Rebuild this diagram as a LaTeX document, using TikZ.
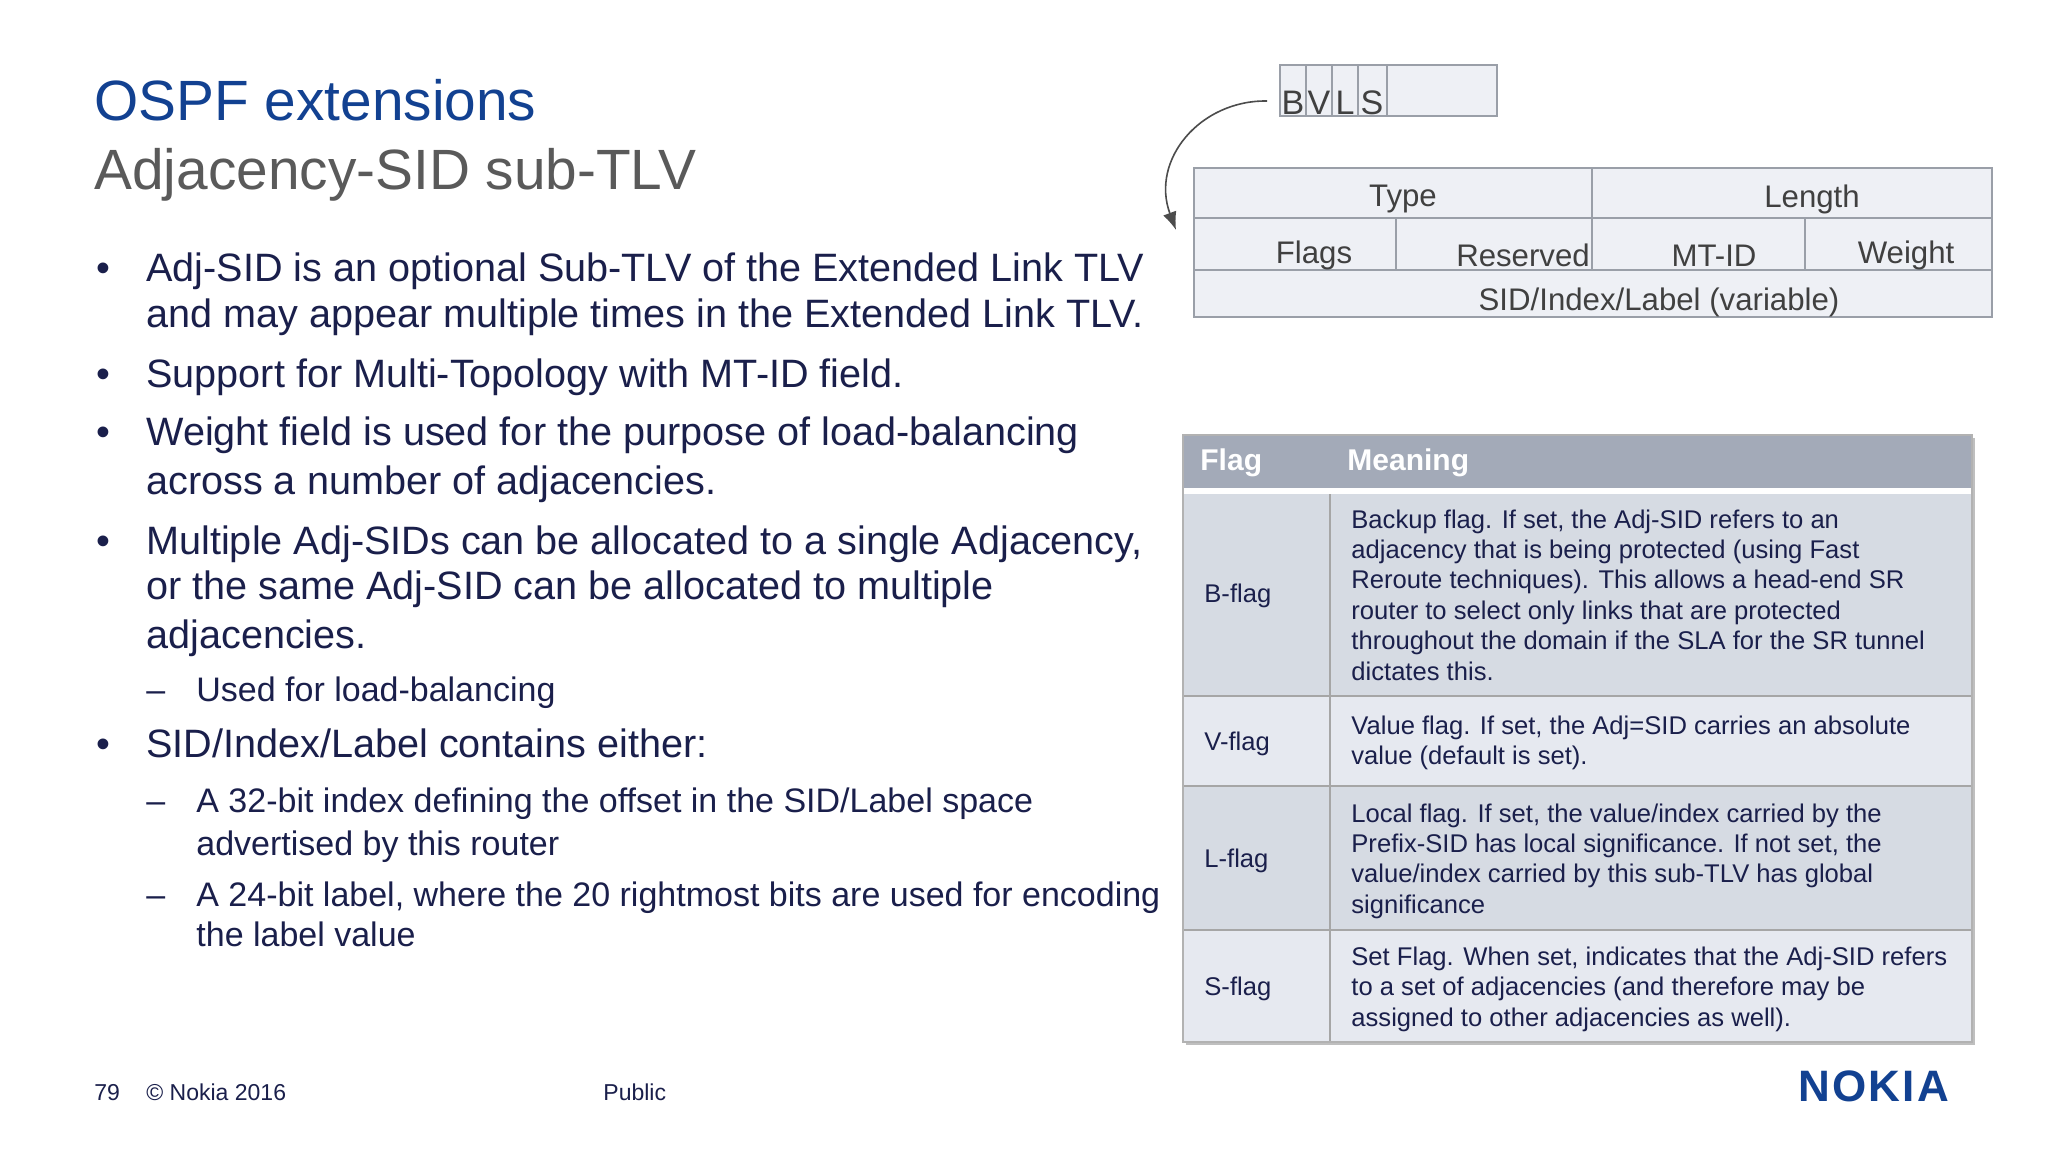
\documentclass[tikz,border=0pt]{standalone}
\usepackage{fontspec}
\usetikzlibrary{arrows.meta}
\setmainfont{Liberation Sans}
\definecolor{navy}{HTML}{1A1F4B}
\definecolor{nblue}{HTML}{124191}
\definecolor{tgray}{HTML}{5A5A5A}
\definecolor{pfill}{HTML}{EEF0F5}
\definecolor{pline}{HTML}{9A9FA8}
\definecolor{hdr}{HTML}{A3AAB8}
\definecolor{rowA}{HTML}{D6DBE3}
\definecolor{rowB}{HTML}{E6E9F0}
\begin{document}
\begin{tikzpicture}[x=0.5pt,y=-0.5pt,
  btxt/.style={anchor=base west,inner sep=0,text=navy,font=\fontsize{19.8}{22}\selectfont},
  stxt/.style={anchor=base west,inner sep=0,text=navy,font=\fontsize{17}{19}\selectfont},
  ptxt/.style={inner sep=0,text=black!75,font=\fontsize{15.6}{17}\selectfont},
  ttxt/.style={anchor=west,inner sep=0,text=navy,align=left,font=\fontsize{12.8}{15.2}\selectfont},
  pbox/.style={draw=pline,fill=pfill,line width=0.6pt},
  foot/.style={anchor=base west,inner sep=0,text=navy,font=\fontsize{11.5}{12}\selectfont}]
\useasboundingbox[fill=white] (0,0) rectangle (2048,1152);
% titles
\node[anchor=base west,inner sep=0,text=nblue,font=\fontsize{28.4}{32}\selectfont] (t1) at (94,120) {OSPF extensions};
\node[anchor=base west,inner sep=0,text=tgray,font=\fontsize{28.4}{32}\selectfont] (t2) at (94,189) {Adjacency-SID sub-TLV};
% bullets
\foreach \y/\n in {281/d1,387/d2,445/d3,554/d4,757/d5}
  \node[btxt] (\n) at (96,\y) {•};
\node[btxt] (b1) at (146,281) {Adj-SID is an optional Sub-TLV of the Extended Link TLV};
\node[btxt] (b1b) at (146,327) {and may appear multiple times in the Extended Link TLV.};
\node[btxt] (b2) at (146,387) {Support for Multi-Topology with MT-ID field.};
\node[btxt] (b3) at (146,445) {Weight field is used for the purpose of load-balancing};
\node[btxt] (b3b) at (146,494) {across a number of adjacencies.};
\node[btxt] (b4) at (146,554) {Multiple Adj-SIDs can be allocated to a single Adjacency,};
\node[btxt] (b4b) at (146,599) {or the same Adj-SID can be allocated to multiple};
\node[btxt] (b4c) at (146,648) {adjacencies.};
\node[stxt] (s0d) at (146,701) {–};
\node[stxt] (s0) at (196,701) {Used for load-balancing};
\node[btxt] (b5) at (146,757) {SID/Index/Label contains either:};
\node[stxt] (s1d) at (146,812) {–};
\node[stxt] (s1) at (196,812) {A 32-bit index defining the offset in the SID/Label space};
\node[stxt] (s1b) at (196,855) {advertised by this router};
\node[stxt] (s2d) at (146,906) {–};
\node[stxt] (s2) at (196,906) {A 24-bit label, where the 20 rightmost bits are used for encoding};
\node[stxt] (s2b) at (196,946) {the label value};
% flags box
\draw[pbox] (1280,65) rectangle (1497,116);
\foreach \x in {1306,1332,1358,1387} \draw[pline,line width=0.6pt] (\x,65) -- (\x,116);
\foreach \x/\l/\n in {1293/B/fb,1319/V/fv,1345/L/fl,1372/S/fs}
  \node[ptxt,anchor=base,font=\fontsize{17}{18}\selectfont] (\n) at (\x,114) {\l};
\coordinate (arS) at (1267,101);
\coordinate (arE) at (1176,230);
\draw[-{Latex[length=9pt,width=7pt]},black!70,line width=0.8pt] (arS) .. controls (1200,100) and (1150,160) .. (arE);
% packet
\draw[pbox] (1194,168) rectangle (1992,317);
\draw[pline,line width=0.6pt] (1194,218) -- (1992,218) (1194,270) -- (1992,270)
  (1592,168) -- (1592,270) (1396,218) -- (1396,270) (1805,218) -- (1805,270);
\node[ptxt] (ty) at (1403,199) {Type};
\node[ptxt] (le) at (1812,199) {Length};
\node[ptxt] (fl) at (1314,255) {Flags};
\node[ptxt] (re) at (1523,255) {Reserved};
\node[ptxt] (mt) at (1714,256) {MT-ID};
\node[ptxt] (we) at (1906,255) {Weight};
\node[ptxt] (sid) at (1659,302) {SID/Index/Label (variable)};
% table
\fill[black!25] (1186,438) rectangle (1975,1045);
\fill[hdr] (1183,435) rectangle (1972,488);
\fill[white] (1183,488) rectangle (1972,494);
\fill[rowA] (1183,494) rectangle (1972,696);
\fill[rowB] (1183,696) rectangle (1972,786);
\fill[rowA] (1183,786) rectangle (1972,930);
\fill[rowB] (1183,930) rectangle (1972,1042);
\draw[black!35,line width=1pt] (1183,696) -- (1972,696) (1183,786) -- (1972,786) (1183,930) -- (1972,930)
  (1330,494) -- (1330,1042);
\draw[black!30,line width=0.6pt] (1183,435) rectangle (1972,1042);
\node[anchor=west,inner sep=0,text=white,font=\fontsize{15}{17}\bfseries] (hf) at (1200,463) {Flag};
\node[anchor=west,inner sep=0,text=white,font=\fontsize{15}{17}\bfseries] (hm) at (1347,463) {Meaning};
\node[ttxt] (fB) at (1204,596) {B-flag};
\node[ttxt] (fV) at (1204,744) {V-flag};
\node[ttxt] (fL) at (1204,861) {L-flag};
\node[ttxt] (fS) at (1204,989) {S-flag};
\node[ttxt] (mB) at (1351,595) {Backup flag. If set, the Adj-SID refers to an\\adjacency that is being protected (using Fast\\Reroute techniques). This allows a head-end SR\\router to select only links that are protected\\throughout the domain if the SLA for the SR tunnel\\dictates this.};
\node[ttxt] (mV) at (1351,743) {Value flag. If set, the Adj=SID carries an absolute\\value (default is set).};
\node[ttxt] (mL) at (1351,861) {Local flag. If set, the value/index carried by the\\Prefix-SID has local significance. If not set, the\\value/index carried by this sub-TLV has global\\significance};
\node[ttxt] (mS) at (1351,989) {Set Flag. When set, indicates that the Adj-SID refers\\to a set of adjacencies (and therefore may be\\assigned to other adjacencies as well).};
% footer
\node[foot] (pg) at (94,1100) {79};
\node[foot] (cp) at (146,1100) {© Nokia 2016};
\node[foot] (pu) at (603,1100) {Public};
\node[anchor=base west,inner sep=0,text=nblue,font=\fontsize{22}{24}\bfseries] (logo) at (1798,1101) {\addfontfeature{LetterSpace=5}NOKIA};
\end{tikzpicture}
\end{document}
